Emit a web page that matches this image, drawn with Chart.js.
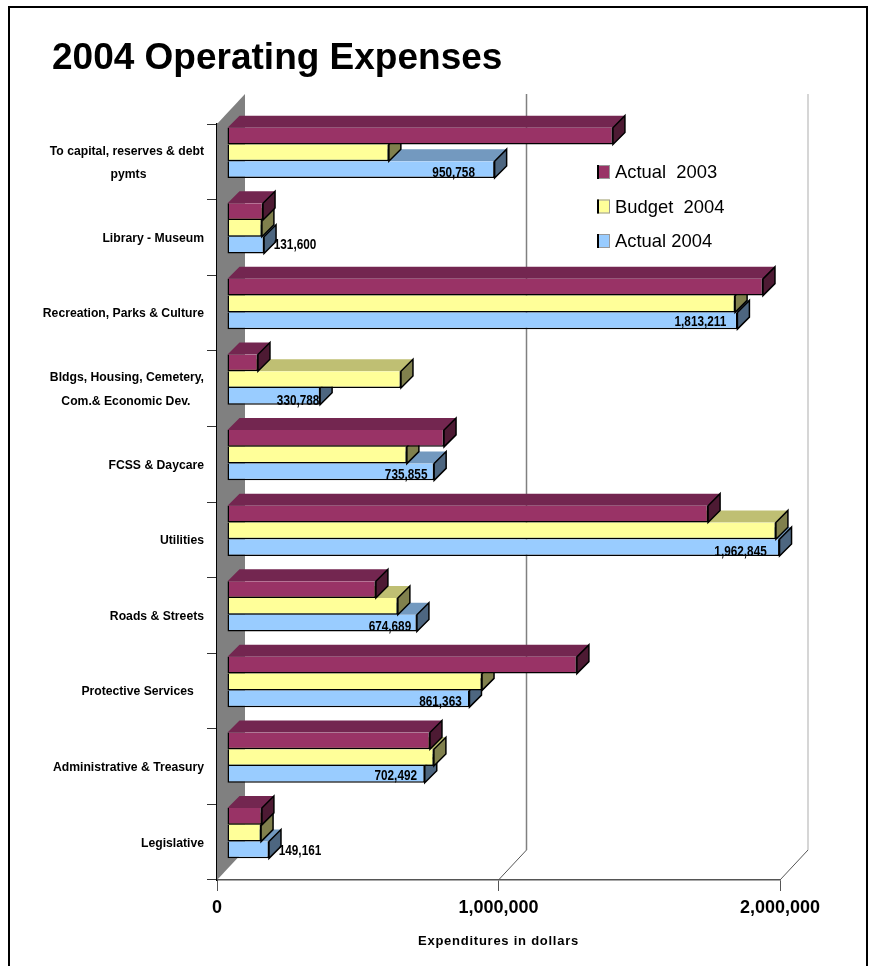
<!DOCTYPE html>
<html>
<head>
<meta charset="utf-8">
<title>2004 Operating Expenses</title>
<script src="https://cdn.jsdelivr.net/npm/chart.js@4"></script>
<style>
  html, body { margin: 0; padding: 0; background: #fff; }
  #wrap { position: relative; width: 874px; height: 966px; overflow: hidden; }
  #frame { position: absolute; left: 8px; top: 6px; width: 860px; height: 970px; border: 2px solid #000; box-sizing: border-box; pointer-events: none; }
</style>
</head>
<body>
<div id="wrap">
  <canvas id="chartOne" width="874" height="966"></canvas>
  <div id="frame"></div>
</div>
<script>
const categories = [
  ['To capital, reserves & debt', 'pymts'],
  'Library - Museum',
  'Recreation, Parks & Culture',
  ['Bldgs, Housing, Cemetery,', 'Com.& Economic Dev.'],
  'FCSS & Daycare',
  'Utilities',
  'Roads & Streets',
  'Protective Services   ',
  'Administrative & Treasury',
  'Legislative',
];
const actual2003 = [1371000, 128000, 1904000, 110000, 771000, 1709000, 529000, 1243000, 721000, 124000];
const budget2004 = [575000, 124000, 1805000, 618000, 639000, 1950000, 607000, 906000, 735000, 121000];
const actual2004 = [950758, 131600, 1813211, 330788, 735855, 1962845, 674689, 861363, 702492, 149161];
const xTicks = [0, 1000000, 2000000];
const xTitle = 'Expenditures in dollars';

const sansFont = '"Liberation Sans", Arial, sans-serif';

// bar plane sits in front of the axis plane, the walls go further back
const barShift = { x: 10, y: -9 };
const barDepth = 12;
const wallDepth = { x: 28, y: -30 };

const faceColors = [
  { top: '#732650', side: '#4d1a33' },
  { top: '#bfbf73', side: '#80804d' },
  { top: '#7399bf', side: '#4d6680' },
];

// where each value label sits, measured from the bar end
const labelOffsets = [[-41, 3], [31, 0], [-37, 1], [-22, 4], [-28, 3], [-39, 4], [-27, 4], [-29, 3], [-29, 1], [31, 1]];

function centerLines(lines) {
  const c = document.createElement('canvas').getContext('2d');
  c.font = 'bold 12.2px ' + sansFont;
  const widest = Math.max(...lines.map((l) => c.measureText(l).width));
  return lines.map((l) => l + ' '.repeat(Math.round((widest - c.measureText(l).width) / 2 / c.measureText(' ').width)));
}

function poly(ctx, pts, fill, stroke) {
  ctx.beginPath();
  pts.forEach((p, i) => (i ? ctx.lineTo(p[0], p[1]) : ctx.moveTo(p[0], p[1])));
  ctx.closePath();
  if (fill) { ctx.fillStyle = fill; ctx.fill(); }
  if (stroke) { ctx.strokeStyle = stroke; ctx.lineWidth = 1.5; ctx.stroke(); }
}

const threeD = {
  id: 'threeD',
  afterLayout(chart) {
    // long labels run left of the title edge, keep them out of the axis clip
    chart.scales.y.left = 0;
  },
  beforeDatasetsDraw(chart) {
    const { ctx, chartArea: a, scales: { x } } = chart;
    const d = wallDepth;
    // side wall
    poly(ctx, [[a.left, a.top], [a.left + d.x, a.top + d.y], [a.left + d.x, a.bottom + d.y], [a.left, a.bottom]], '#808080');
    // back wall gridlines and floor edges
    xTicks.slice(1).forEach((v, i) => {
      const px = x.getPixelForValue(v);
      ctx.beginPath();
      ctx.moveTo(px + d.x, a.top + d.y);
      ctx.lineTo(px + d.x, a.bottom + d.y);
      ctx.strokeStyle = i === 0 ? '#808080' : '#c8c8c8';
      ctx.lineWidth = 1.5;
      ctx.stroke();
      ctx.beginPath();
      ctx.moveTo(px, a.bottom);
      ctx.lineTo(px + d.x, a.bottom + d.y);
      ctx.strokeStyle = '#555';
      ctx.lineWidth = 1;
      ctx.stroke();
    });
    ctx.save();
    ctx.translate(barShift.x, barShift.y);
  },
  beforeDatasetDraw(chart, args) {
    const ctx = chart.ctx;
    const c = faceColors[args.index];
    args.meta.data.forEach((bar) => {
      const top = bar.y - bar.height / 2;
      const bottom = bar.y + bar.height / 2;
      poly(ctx, [[bar.base, top], [bar.x, top], [bar.x + barDepth, top - barDepth], [bar.base + barDepth, top - barDepth]], c.top);
      poly(ctx, [[bar.x, top], [bar.x + barDepth, top - barDepth], [bar.x + barDepth, bottom - barDepth], [bar.x, bottom]], c.side, '#000');
    });
  },
  afterDatasetsDraw(chart) {
    const ctx = chart.ctx;
    // value labels of the last series, squeezed like the original
    const meta = chart.getDatasetMeta(2);
    meta.data.forEach((bar, i) => {
      ctx.save();
      ctx.translate(bar.x + labelOffsets[i][0], bar.y + labelOffsets[i][1]);
      ctx.scale(0.76, 1);
      ctx.font = 'bold 15.5px ' + sansFont;
      ctx.fillStyle = '#000';
      ctx.textBaseline = 'middle';
      ctx.textAlign = 'center';
      ctx.fillText(actual2004[i].toLocaleString('en-US'), 0, 0);
      ctx.restore();
    });
    ctx.restore();

    // legend
    ctx.save();
    ctx.font = '18.4px ' + sansFont;
    ctx.textAlign = 'left';
    ctx.textBaseline = 'middle';
    chart.data.datasets.forEach((ds, i) => {
      const y = 172 + i * 34.5;
      ctx.fillStyle = ds.backgroundColor;
      ctx.fillRect(597, y - 7, 13, 14);
      ctx.strokeStyle = '#999';
      ctx.lineWidth = 1;
      ctx.strokeRect(597.5, y - 6.5, 12, 13);
      ctx.fillStyle = '#000';
      ctx.fillRect(597, y - 7, 2, 14);
      ctx.fillText(ds.label, 615, y + 1);
    });
    ctx.restore();

    // axis title, spaced out like the original
    ctx.save();
    ctx.font = 'bold 13px ' + sansFont;
    ctx.letterSpacing = '0.75px';
    ctx.fillStyle = '#000';
    ctx.textAlign = 'center';
    ctx.textBaseline = 'middle';
    ctx.fillText(xTitle, 498.5, 941.5);
    ctx.restore();
  },
};

const canvasOne = document.getElementById('chartOne');
const edges = { top: 0, left: 1.5, right: 1.5, bottom: 1.5 };
const configOne = {
  type: 'bar',
  data: {
    labels: categories,
    datasets: [
      { label: 'Actual  2003', data: actual2003, backgroundColor: '#993366' },
      { label: 'Budget  2004', data: budget2004, backgroundColor: '#ffff99' },
      { label: 'Actual 2004', data: actual2004, backgroundColor: '#99ccff' },
    ].map((d) => ({
      ...d,
      borderColor: '#000',
      borderWidth: edges,
      borderSkipped: false,
      barPercentage: 1,
      categoryPercentage: 0.665,
      clip: false,
    })),
  },
  options: {
    indexAxis: 'y',
    responsive: false,
    animation: false,
    layout: { padding: { left: 52, right: 94, top: 37, bottom: 46 } },
    plugins: {
      legend: { display: false },
      tooltip: { enabled: false },
      title: {
        display: true,
        text: '2004 Operating Expenses',
        align: 'start',
        color: '#000',
        font: { family: sansFont, size: 37, weight: 'bold', lineHeight: 1.2 },
        padding: { top: 0, bottom: 42.6 },
      },
    },
    scales: {
      x: {
        min: 0,
        max: 2000000,
        border: { color: '#555', width: 1.5 },
        grid: { drawOnChartArea: false, color: '#555', tickLength: 11 },
        afterBuildTicks(axis) { axis.ticks = xTicks.map((v) => ({ value: v })); },
        afterFit(axis) { axis.height = 40; },
        ticks: {
          color: '#000',
          maxRotation: 0,
          padding: 6,
          font: { family: sansFont, size: 18, weight: 'bold' },
          callback: (v) => v.toLocaleString('en-US'),
        },
      },
      y: {
        border: { color: '#000', width: 1.5 },
        grid: { drawOnChartArea: false, color: '#333', tickLength: 10 },
        afterFit(axis) { axis.width = 165; },
        ticks: {
          color: '#000',
          padding: 3,
          labelOffset: 1,
          autoSkip: false,
          font: { family: sansFont, size: 12.2, weight: 'bold', lineHeight: 1.9 },
          callback(value) {
            const label = this.getLabelForValue(value);
            return Array.isArray(label) ? centerLines(label) : label;
          },
        },
      },
    },
  },
  plugins: [threeD],
};

const chartOne = new Chart(canvasOne, configOne);
</script>
</body>
</html>
